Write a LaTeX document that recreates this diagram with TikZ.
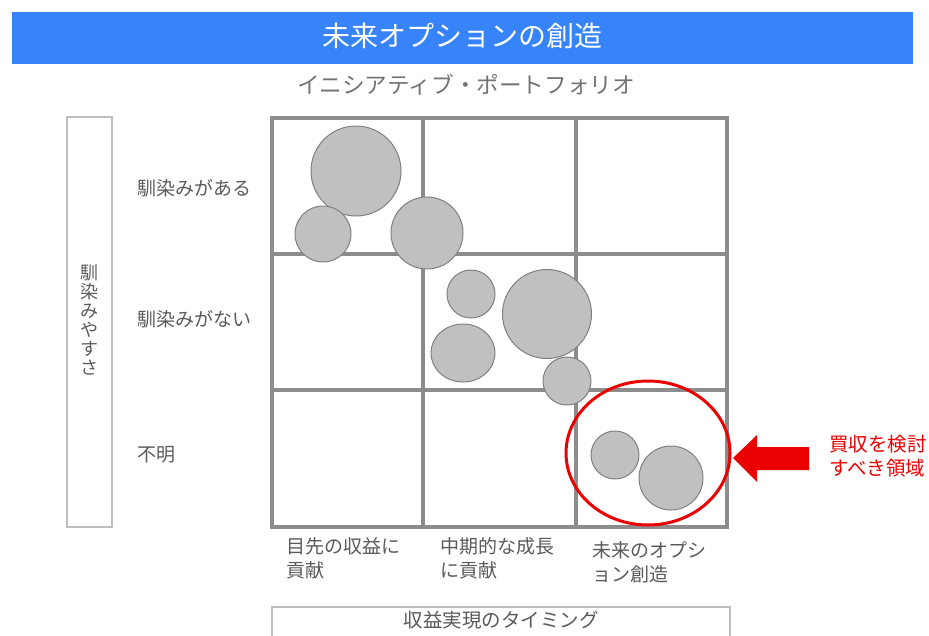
\documentclass[tikz,border=0pt]{standalone}
\usepackage{fontspec}
\setmainfont{Noto Sans CJK JP}
\definecolor{titleblue}{RGB}{55,131,250}
\definecolor{gridgray}{RGB}{140,140,140}
\definecolor{bubblefill}{RGB}{192,192,192}
\definecolor{bubbleline}{RGB}{128,128,128}
\definecolor{labelgray}{RGB}{90,90,90}
\definecolor{boxgray}{RGB}{190,190,190}
\definecolor{alertred}{RGB}{235,0,0}
\usetikzlibrary{shapes.geometric}
\tikzset{
  bubble/.style={circle, fill=bubblefill, draw=bubbleline, line width=1pt, inner sep=0pt},
  gridline/.style={draw=gridgray, line width=3.5pt},
  rowlabel/.style={anchor=west, inner sep=0pt, text=labelgray, font=\fontsize{19}{24}\selectfont},
  collabel/.style={anchor=north west, inner sep=0pt, align=left, text=labelgray, font=\fontsize{19}{24}\selectfont},
  axisbox/.style={draw=boxgray, line width=1.5pt},
}
\begin{document}
\begin{tikzpicture}[x=1pt,y=-1pt]
\useasboundingbox (0,0) rectangle (929,635);
\clip (0,0) rectangle (929,635);
% title bar
\node[fill=titleblue, minimum width=901pt, minimum height=52pt, inner sep=0pt] (bar) at (462.5,38) {};
\node[text=white, font=\fontsize{28}{32}\selectfont, inner sep=0pt] (title) at (462.5,36) {未来オプションの創造};
\node[text=labelgray!85, font=\fontsize{22.6}{26}\selectfont, inner sep=0pt] (subtitle) at (466,85) {イニシアティブ・ポートフォリオ};
% grid cells
\node[draw=gridgray, line width=3.5pt, minimum width=455pt, minimum height=409pt, inner sep=0pt] (grid) at (499.5,322.5) {};
\draw[gridline] (423,118) -- (423,527);
\draw[gridline] (576,118) -- (576,527);
\draw[gridline] (272,254) -- (727,254);
\draw[gridline] (272,390) -- (727,390);
% bubbles
\node[bubble, minimum size=90pt] (b1) at (356,171) {};
\node[bubble, minimum size=56pt] (b2) at (323,234) {};
\node[bubble, minimum size=72pt] (b3) at (427,233) {};
\node[bubble, minimum size=48pt] (b4) at (471,294) {};
\node[bubble, ellipse, minimum width=64pt, minimum height=58pt] (b5) at (463,353) {};
\node[bubble, minimum size=89pt] (b6) at (547,314) {};
\node[bubble, minimum size=48pt] (b7) at (567,381) {};
\node[bubble, minimum size=48pt] (b8) at (615,455) {};
\node[bubble, minimum size=64pt] (b9) at (671,478) {};
% red highlight
\node[draw=alertred, line width=3pt, ellipse, minimum width=164pt, minimum height=144pt, inner sep=0pt] (focus) at (648,453) {};
\fill[alertred] (733,458) -- (757,435) -- (757,447) -- (809,447) -- (809,470) -- (757,470) -- (757,482) -- cycle;
\node[anchor=west, inner sep=0pt, align=left, text=alertred, font=\fontsize{19.5}{24}\selectfont] (note) at (829,456) {買収を検討\\すべき領域};
% left axis
\node[axisbox, minimum width=45pt, minimum height=410pt, inner sep=0pt] (yaxis) at (89.5,322) {};
\node[text=labelgray, align=center, inner sep=0pt, font=\fontsize{18}{19}\selectfont] (ytitle) at (89,320) {馴\\染\\み\\や\\す\\さ};
\node[rowlabel] (r1) at (137,188) {馴染みがある};
\node[rowlabel] (r2) at (137,319) {馴染みがない};
\node[rowlabel] (r3) at (137,455) {不明};
% bottom labels
\node[collabel] (c1) at (286,537) {目先の収益に\\貢献};
\node[collabel] (c2) at (440,537) {中期的な成長\\に貢献};
\node[collabel] (c3) at (592,541) {未来のオプシ\\ョン創造};
% bottom axis
\draw[axisbox] (272,607) rectangle (730,650);
\node[text=labelgray, inner sep=0pt, font=\fontsize{19.5}{24}\selectfont] (xtitle) at (501,620) {収益実現のタイミング};
\end{tikzpicture}
\end{document}
